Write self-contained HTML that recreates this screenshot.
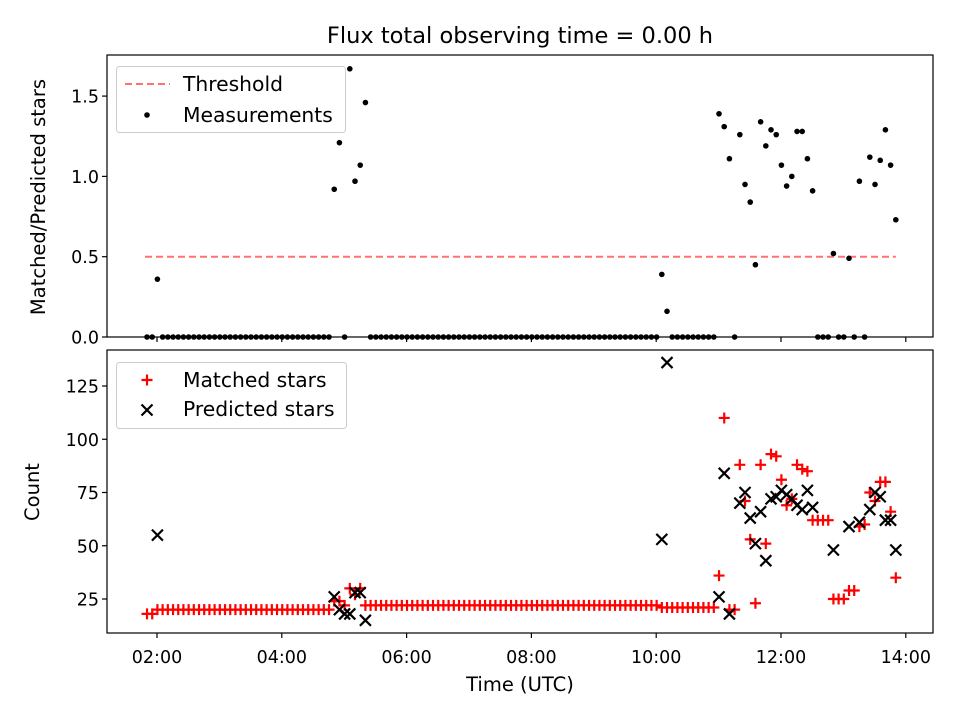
<!DOCTYPE html>
<html><head><meta charset="utf-8"><style>
body{margin:0;background:#fff}
svg{display:block;font-family:"DejaVu Sans","Liberation Sans",sans-serif}
</style></head><body>
<svg id="c" width="960" height="720" xmlns="http://www.w3.org/2000/svg"></svg>
<script>
// sample cadence: 5-minute samples starting at 1.84 h UTC
const startHour = 1.84;
const stepHour = 5/60;
const ratios = [0,0,0.36,0,0,0,0,0,0,0,0,0,0,0,0,0,0,0,0,0,0,0,0,0,0,0,0,0,0,0,0,0,0,0,0,0,
0.92,1.21,0,1.67,0.97,1.07,1.46,
0,0,0,0,0,0,0,0,0,0,0,0,0,0,0,0,0,0,0,0,0,0,0,0,0,0,0,0,0,0,0,0,0,0,0,0,0,0,0,0,0,0,0,0,0,0,0,0,0,0,0,0,0,0,0,0,
0.39,0.16,0,0,0,0,0,0,0,0,0,
1.39,1.31,1.11,0,1.26,0.95,0.84,0.45,1.34,1.19,1.29,1.26,1.07,0.94,1.0,1.28,1.28,1.11,0.91,0,0,0,0.52,0,0,0.49,0,0.97,0,1.12,0.95,1.10,1.29,1.07,0.73];
const matched = [18,18,20,20,20,20,20,20,20,20,20,20,20,20,20,20,20,20,20,20,20,20,20,20,20,20,20,20,20,20,20,20,20,20,20,20,
24,24,22,30,27,30,22,
22,22,22,22,22,22,22,22,22,22,22,22,22,22,22,22,22,22,22,22,22,22,22,22,22,22,22,22,22,22,22,22,22,22,22,22,22,22,22,22,22,22,22,22,22,22,22,22,22,22,22,22,22,22,22,22,
21,21,21,21,21,21,21,21,21,21,21,
36,110,20,20,88,71,53,23,88,51,93,92,81,69,72,88,86,85,62,62,62,62,25,25,25,29,29,59,60,75,71,80,80,66,35];
const N = null;
const predicted = [N,N,55,N,N,N,N,N,N,N,N,N,N,N,N,N,N,N,N,N,N,N,N,N,N,N,N,N,N,N,N,N,N,N,N,N,
26,20,18,18,28,28,15,
N,N,N,N,N,N,N,N,N,N,N,N,N,N,N,N,N,N,N,N,N,N,N,N,N,N,N,N,N,N,N,N,N,N,N,N,N,N,N,N,N,N,N,N,N,N,N,N,N,N,N,N,N,N,N,N,
53,136,N,N,N,N,N,N,N,N,N,
26,84,18,N,70,75,63,51,66,43,72,73,76,74,72,69,67,76,68,N,N,N,48,N,N,59,N,61,N,67,75,73,62,62,48];
const threshold = 0.5;
const xTicks = [2,4,6,8,10,12,14];
const xTickLabels = ["02:00","04:00","06:00","08:00","10:00","12:00","14:00"];
const topTicks = [0,0.5,1.0,1.5];
const topTickLabels = ["0.0","0.5","1.0","1.5"];
const botTicks = [25,50,75,100,125];
const botTickLabels = ["25","50","75","100","125"];

const svg = document.getElementById('c');
const NS = 'http://www.w3.org/2000/svg';
function mk(tag, attrs, parent){const e=document.createElementNS(NS,tag);for(const k in attrs)e.setAttribute(k,attrs[k]);(parent||svg).appendChild(e);return e;}
const L=107,R=933,T1=55,B1=337,T2=350,B2=633;
const FS=17.5;
const xs = h => 157 + (h-2)*62.4;
const yTop = r => 337 - r*160.6;
const yBot = v => 599 - (v-25)*2.13;
const hourOf = i => startHour + i*stepHour;

let t = mk('text',{x:520,y:43,'text-anchor':'middle','font-size':'22.5'});
t.textContent='Flux total observing time = 0.00 h';



function axesFrame(name){
  const g=mk('g',{});
  
  
  return g;
}
const gTop=axesFrame('ratio-panel');
const gBot=axesFrame('count-panel');

const th=mk('line',{x1:xs(hourOf(0))-2,x2:xs(hourOf(ratios.length-1)),y1:yTop(threshold),y2:yTop(threshold),stroke:'#ff7070','stroke-width':2,'stroke-dasharray':'7,4'},gTop);



ratios.forEach((r,i)=>{ if(r===null) return;
  const c=mk('circle',{cx:xs(hourOf(i)),cy:yTop(r),r:2.8,fill:'#000'},gTop);
  
  
});
matched.forEach((v,i)=>{ if(v===null) return;
  const x=xs(hourOf(i)),y=yBot(v);
  const p=mk('path',{d:`M${x-5.5},${y}H${x+5.5}M${x},${y-5.5}V${y+5.5}`,stroke:'#ff0000','stroke-width':2.2},gBot);
  
  
});
predicted.forEach((v,i)=>{ if(v===null) return;
  const x=xs(hourOf(i)),y=yBot(v);
  const p=mk('path',{d:`M${x-5.5},${y-5.5}L${x+5.5},${y+5.5}M${x-5.5},${y+5.5}L${x+5.5},${y-5.5}`,stroke:'#000','stroke-width':2.2},gBot);
  
  
});

[[T1,B1],[T2,B2]].forEach(([a,b])=>{
  mk('rect',{x:L,y:a,width:R-L,height:b-a,fill:'none',stroke:'#000','stroke-width':1.2});
});
xTicks.forEach((h,k)=>{
  const x=xs(h);
  mk('line',{x1:x,x2:x,y1:B1,y2:B1+5,stroke:'#000','stroke-width':1.2});
  mk('line',{x1:x,x2:x,y1:B2,y2:B2+5,stroke:'#000','stroke-width':1.2});
  const tx=mk('text',{x:x,y:B2+30,'text-anchor':'middle','font-size':FS});
  tx.textContent=xTickLabels[k];
  
  
});
topTicks.forEach((v,k)=>{
  const y=yTop(v);
  mk('line',{x1:L-5,x2:L,y1:y,y2:y,stroke:'#000','stroke-width':1.2});
  const tx=mk('text',{x:L-8,y:y+6.5,'text-anchor':'end','font-size':FS});
  tx.textContent=topTickLabels[k];
  
  
});
botTicks.forEach((v,k)=>{
  const y=yBot(v);
  mk('line',{x1:L-5,x2:L,y1:y,y2:y,stroke:'#000','stroke-width':1.2});
  const tx=mk('text',{x:L-8,y:y+6.5,'text-anchor':'end','font-size':FS});
  tx.textContent=botTickLabels[k];
  
  
});
</script>
<svg style="position:absolute;left:0;top:0" width="960" height="720">
  <text x="520" y="691" text-anchor="middle" font-size="19.5">Time (UTC)</text>
  <text transform="translate(45,197) rotate(-90)" text-anchor="middle" font-size="19.5">Matched/Predicted stars</text>
  <text transform="translate(39,492) rotate(-90)" text-anchor="middle" font-size="19.5">Count</text>
  <g>
    <rect x="116.5" y="66.5" width="229" height="66" rx="3" fill="#fff" fill-opacity="0.8" stroke="#ccc"/>
    <line x1="125" x2="170" y1="84" y2="84" stroke="#ff7070" stroke-width="2" stroke-dasharray="7,4"/>
    <text x="183" y="91" font-size="20.3">Threshold</text>
    <circle cx="147" cy="115" r="2.8" fill="#000"/>
    <text x="183" y="122" font-size="20.3">Measurements</text>
  </g>
  <g>
    <rect x="116.5" y="362.5" width="230" height="66" rx="3" fill="#fff" fill-opacity="0.8" stroke="#ccc"/>
    <path d="M141.5,380H152.5M147,374.5V385.5" stroke="#f00" stroke-width="2.2"/>
    <text x="183" y="387" font-size="20.3">Matched stars</text>
    <path d="M141.5,404.5L152.5,415.5M141.5,415.5L152.5,404.5" stroke="#000" stroke-width="2.2"/>
    <text x="183" y="416" font-size="20.3">Predicted stars</text>
  </g>
</svg>
</body></html>
